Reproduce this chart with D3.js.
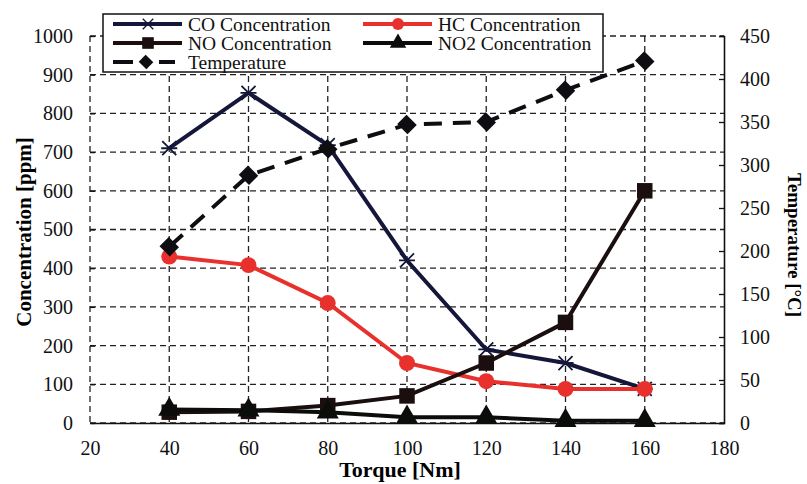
<!DOCTYPE html>
<html>
<head>
<meta charset="utf-8">
<script src="https://cdn.jsdelivr.net/npm/d3@7"></script>
<style>
  body { margin: 0; background: #fff; }
  svg text { font-family: 'Liberation Serif', 'Times New Roman', Times, 'DejaVu Serif', serif; }
</style>
</head>
<body>
<div id="chart"></div>
<script>
// data
const torque = [40, 60, 80, 100, 120, 140, 160];
const coConc = [710, 853, 718, 420, 190, 155, 88];
const hcConc = [430, 408, 310, 155, 108, 88, 88];
const noConc = [28, 30, 45, 70, 155, 260, 600];
const no2Conc = [35, 33, 28, 15, 15, 6, 6];
const temperature = [205, 288, 319, 347, 350, 387, 421];

const xTicks = [20, 40, 60, 80, 100, 120, 140, 160, 180];
const yTicks = d3.range(0, 1001, 100);
const y2Ticks = d3.range(0, 451, 50);

const W = 807, H = 484;
const margin = { top: 36, right: 83, bottom: 61, left: 90 };
const width = W - margin.left - margin.right;
const height = H - margin.top - margin.bottom;

const svg = d3.select('#chart').append('svg')
    .attr('width', W)
    .attr('height', H);

const g = svg.append('g')
    .attr('transform', `translate(${margin.left},${margin.top})`);

const x = d3.scaleLinear().domain([20, 180]).range([0, width]);
const y = d3.scaleLinear().domain([0, 1000]).range([height, 0]);
const y2 = d3.scaleLinear().domain([0, 450]).range([height, 0]);

// grid
g.append('g')
    .selectAll('line')
    .data(yTicks)
    .enter()
    .append('line')
    .attr('x1', 0).attr('x2', width)
    .attr('y1', d => y(d)).attr('y2', d => y(d))
    .attr('stroke', '#222')
    .attr('stroke-width', 1.3)
    .attr('stroke-dasharray', '6,4');

g.append('g')
    .selectAll('line')
    .data(xTicks.slice(0, -1))
    .enter()
    .append('line')
    .attr('x1', d => x(d)).attr('x2', d => x(d))
    .attr('y1', 0).attr('y2', height)
    .attr('stroke', '#222')
    .attr('stroke-width', 1.3)
    .attr('stroke-dasharray', '6,4');

// axes
const leftAxis = g.append('g')
    .call(d3.axisLeft(y).tickValues(yTicks).tickFormat(d3.format('d')).tickSize(-5).tickPadding(17));
leftAxis.select('.domain').remove();

const rightAxis = g.append('g')
    .attr('transform', `translate(${width},0)`)
    .call(d3.axisRight(y2).tickValues(y2Ticks).tickFormat(d3.format('d')).tickSize(-5).tickPadding(16));

const bottomAxis = g.append('g')
    .attr('transform', `translate(0,${height})`)
    .call(d3.axisBottom(x).tickValues(xTicks).tickFormat(d3.format('d')).tickSize(0).tickPadding(18));

[leftAxis, rightAxis, bottomAxis].forEach(a => {
    a.attr('font-family', null).attr('font-size', null);
    a.selectAll('text')
        .style('font-size', '20px')
        .attr('fill', '#111');
    a.selectAll('line').attr('stroke', '#111').attr('stroke-width', 1.3);
    a.select('.domain').attr('stroke', '#111').attr('stroke-width', 1.6);
});

// titles
svg.append('text')
    .attr('x', 400)
    .attr('y', 477)
    .attr('text-anchor', 'middle')
    .style('font-size', '22px')
    .style('font-weight', 'bold')
    .text('Torque [Nm]');

svg.append('text')
    .attr('transform', 'translate(31,232) rotate(-90)')
    .attr('text-anchor', 'middle')
    .style('font-size', '21px')
    .style('font-weight', 'bold')
    .text('Concentration [ppm]');

svg.append('text')
    .attr('transform', 'translate(788,245) rotate(90)')
    .attr('text-anchor', 'middle')
    .style('font-size', '19px')
    .style('font-weight', 'bold')
    .text('Temperature [°C]');

// series
const series = [
    { name: 'CO Concentration', values: coConc, scale: y, color: '#15173a', symbol: 'star', dash: null },
    { name: 'HC Concentration', values: hcConc, scale: y, color: '#e8302c', symbol: d3.symbolCircle, size: 200, dash: null },
    { name: 'NO Concentration', values: noConc, scale: y, color: '#1a0e0e', symbol: d3.symbolSquare, size: 240, dash: null },
    { name: 'NO2 Concentration', values: no2Conc, scale: y, color: '#0b0d0b', symbol: d3.symbolTriangle, size: 210, dash: null },
    { name: 'Temperature', values: temperature, scale: y2, color: '#0d0d12', symbol: 'diamond', size: 190, dash: '18,11' }
];

function drawMarker(sel, s, k) {
    if (s.symbol === 'star') {
        sel.append('path')
            .attr('d', 'M-7,-7L7,7M-7,7L7,-7M-8,0L8,0')
            .attr('transform', `scale(${k})`)
            .attr('fill', 'none')
            .attr('stroke', s.color)
            .attr('stroke-width', 1.8);
    } else if (s.symbol === 'diamond') {
        sel.append('path')
            .attr('d', d3.symbol().type(d3.symbolSquare).size(s.size * k * k)())
            .attr('transform', 'rotate(45) scale(1.05,0.95)')
            .attr('fill', s.color);
    } else {
        sel.append('path')
            .attr('d', d3.symbol().type(s.symbol).size(s.size * k * k)())
            .attr('fill', s.color);
    }
}

series.forEach(s => {
    const line = d3.line()
        .x((d, i) => x(torque[i]))
        .y(d => s.scale(d));

    g.append('path')
        .datum(s.values)
        .attr('d', line)
        .attr('fill', 'none')
        .attr('stroke', s.color)
        .attr('stroke-width', 4)
        .attr('stroke-dasharray', s.dash);

    g.selectAll(null)
        .data(s.values)
        .enter()
        .append('g')
        .attr('transform', (d, i) => `translate(${x(torque[i])},${s.scale(d)})`)
        .each(function () { drawMarker(d3.select(this), s, 1); });
});

// legend
const legend = svg.append('g').attr('transform', 'translate(103,14)');
legend.append('rect')
    .attr('width', 500)
    .attr('height', 58)
    .attr('fill', '#fff')
    .attr('stroke', '#111')
    .attr('stroke-width', 1.5);

const legendPos = [[0, 0], [250, 0], [0, 1], [250, 1], [0, 2]];
series.forEach((s, i) => {
    const [lx, row] = legendPos[i];
    const item = legend.append('g')
        .attr('transform', `translate(${lx + 10},${10 + row * 19})`);
    if (s.dash) {
        item.append('line')
            .attr('x1', 0).attr('x2', 20)
            .attr('stroke', s.color).attr('stroke-width', 4);
        item.append('line')
            .attr('x1', 46).attr('x2', 62)
            .attr('stroke', s.color).attr('stroke-width', 4);
    } else {
        item.append('line')
            .attr('x1', 0).attr('x2', 69)
            .attr('stroke', s.color)
            .attr('stroke-width', 4);
    }
    const m = item.append('g').attr('transform', `translate(${s.dash ? 33 : 35},0)`);
    drawMarker(m, s, 0.75);
    item.append('text')
        .attr('x', 75)
        .attr('y', 7)
        .style('font-size', '19.5px')
        .attr('fill', '#111')
        .text(s.name);
});
</script>
</body>
</html>
